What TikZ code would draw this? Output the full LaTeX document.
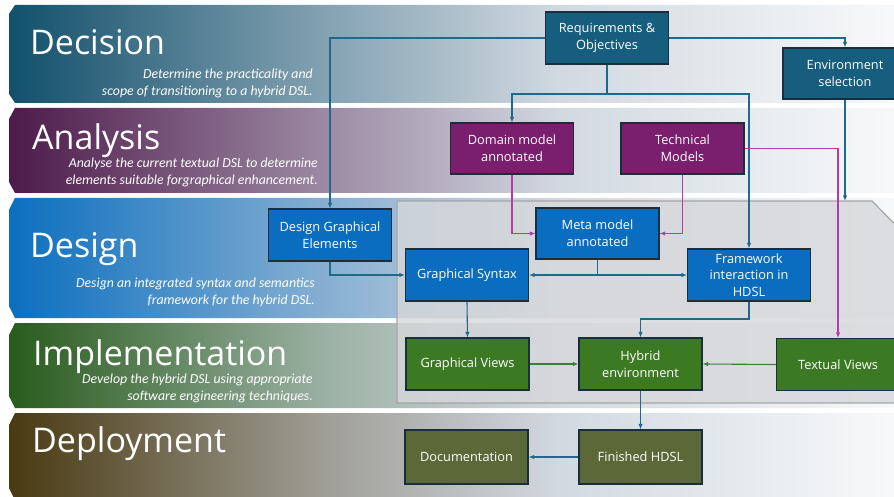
\documentclass[tikz,border=0pt]{standalone}
\usepackage{fontspec}
\setmainfont{Open Sans}
\newfontfamily\subfont{Carlito}
\usetikzlibrary{arrows.meta}

% phase colours (dark end of each band)
\definecolor{decA}{HTML}{12506B}
\definecolor{decB}{HTML}{85A3B3}
\definecolor{anaA}{HTML}{4D1A4A}
\definecolor{anaB}{HTML}{9D8BA4}
\definecolor{desA}{HTML}{0B6FBF}
\definecolor{desB}{HTML}{88B0D2}
\definecolor{impA}{HTML}{285B1C}
\definecolor{impB}{HTML}{9DB2A6}
\definecolor{depA}{HTML}{4A3A12}
\definecolor{depB}{HTML}{A09F98}
\definecolor{bandC}{HTML}{D2D9E1}
\definecolor{bandD}{HTML}{F8F9FA}

% box fills
\definecolor{boxline}{HTML}{1A2E3C}
\definecolor{decbox}{HTML}{165D7E}
\definecolor{anabox}{HTML}{791F6D}
\definecolor{desbox}{HTML}{0A6DC0}
\definecolor{impbox}{HTML}{3B7A23}
\definecolor{depbox}{HTML}{5B6838}

% connector colours
\definecolor{tealline}{HTML}{1F6A8A}
\definecolor{purpline}{HTML}{B23DAA}
\definecolor{greenline}{HTML}{3C7D3C}

\definecolor{panelfill}{HTML}{D6D7DA}
\definecolor{panelline}{HTML}{A6A6A6}

\pgfdeclarehorizontalshading{decshade}{100bp}{color(0bp)=(decA); color(25bp)=(decA); color(43bp)=(decB); color(56bp)=(bandC); color(75bp)=(bandD); color(100bp)=(bandD)}
\pgfdeclarehorizontalshading{anashade}{100bp}{color(0bp)=(anaA); color(25bp)=(anaA); color(43bp)=(anaB); color(56bp)=(bandC); color(75bp)=(bandD); color(100bp)=(bandD)}
\pgfdeclarehorizontalshading{desshade}{100bp}{color(0bp)=(desA); color(25bp)=(desA); color(43bp)=(desB); color(56bp)=(bandC); color(75bp)=(bandD); color(100bp)=(bandD)}
\pgfdeclarehorizontalshading{impshade}{100bp}{color(0bp)=(impA); color(25bp)=(impA); color(43bp)=(impB); color(56bp)=(bandC); color(75bp)=(bandD); color(100bp)=(bandD)}
\pgfdeclarehorizontalshading{depshade}{100bp}{color(0bp)=(depA); color(25bp)=(depA); color(43bp)=(depB); color(56bp)=(bandC); color(75bp)=(bandD); color(100bp)=(bandD)}

\begin{document}
\begin{tikzpicture}[x=1pt,y=-1pt,
  bx/.style={draw=boxline, line width=1.1pt, text=white, minimum width=123pt,
    minimum height=52pt, align=center, inner sep=2pt,
    font=\fontsize{12.8}{16.8}\selectfont},
  phase/.style={text=white, anchor=base west, inner sep=0pt,
    font=\fontsize{34}{38}\selectfont},
  blurb/.style={text=white, anchor=east, align=right, inner sep=0pt,
    font=\subfont\itshape\fontsize{13.8}{16.8}\selectfont},
  tip/.style={-{Latex[length=5.5pt,width=4.5pt]}},
  tl/.style={draw=tealline, line width=1.1pt, tip},
  pl/.style={draw=purpline, line width=1.1pt, tip},
  gl/.style={draw=greenline, line width=1.1pt, tip},
]
\useasboundingbox (0,0) rectangle (894,497);
\clip (0,0) rectangle (894,497);
\fill[white] (0,0) rectangle (894,497);

% phase bands
\shade[shading=decshade] (15,5) -- (900,5) -- (900,103) -- (15,103) -- (9,94) -- (9,14) -- cycle;
\shade[shading=anashade] (15,108) -- (900,108) -- (900,193) -- (15,193) -- (9,182) -- (9,119) -- cycle;
\shade[shading=desshade] (15,198) -- (900,198) -- (900,318) -- (15,318) -- (9,306) -- (9,210) -- cycle;
\shade[shading=impshade] (15,323) -- (900,323) -- (900,408) -- (15,408) -- (9,396) -- (9,335) -- cycle;
\shade[shading=depshade] (15,413) -- (900,413) -- (900,500) -- (15,500) -- (9,488) -- (9,425) -- cycle;

% phase titles and descriptions
\node[phase] (tdec) at (30,55) {Decision};
\node[phase] (tana) at (32,150) {Analysis};
\node[phase] (tdes) at (30,258) {Design};
\node[phase] (timp) at (33,365) {Implementation};
\node[phase] (tdep) at (32,452) {Deployment};

\node[blurb] (bdec) at (313,83) {Determine the practicality and\\scope of transitioning to a hybrid DSL.};
\node[blurb] (bana) at (318,172) {Analyse the current textual DSL to determine\\elements suitable forgraphical enhancement.};
\node[blurb] (bdes) at (315,292) {Design an integrated syntax and semantics\\framework for the hybrid DSL.};
\node[blurb] (bimp) at (313,388) {Develop the hybrid DSL using appropriate\\software engineering techniques.};

% translucent panel grouping design and implementation work
\filldraw[fill=panelfill, fill opacity=0.8, draw=panelline, line width=1.2pt]
  (397,201) -- (872,201) -- (930,260) -- (930,403) -- (397,403) -- cycle;
\coordinate (ptop) at (845,201);

% process boxes
\node[bx, fill=decbox] (req) at (607,38) {Requirements \&\\Objectives};
\node[bx, fill=decbox, minimum width=124pt, minimum height=51pt] (env) at (845,73.5) {Environment\\selection};
\node[bx, fill=anabox, minimum height=51pt] (dom) at (512,148.5) {Domain model\\annotated};
\node[bx, fill=anabox, minimum height=51pt] (tech) at (682.5,148.5) {Technical\\Models};
\node[bx, fill=desbox] (dge) at (330,235) {Design Graphical\\Elements};
\node[bx, fill=desbox, minimum height=51pt] (meta) at (597.5,233.5) {Meta model\\annotated};
\node[bx, fill=desbox] (gs) at (467,275) {Graphical Syntax};
\node[bx, fill=desbox] (fw) at (749,275) {Framework\\interaction in\\HDSL};
\node[bx, fill=impbox] (gv) at (467.5,364) {Graphical Views};
\node[bx, fill=impbox] (hy) at (640.5,364) {Hybrid\\environment};
\node[bx, fill=impbox] (tv) at (838,364.5) {Textual Views};
\node[bx, fill=depbox, minimum height=54pt] (doc) at (466.5,457) {Documentation};
\node[bx, fill=depbox, minimum height=54pt] (fin) at (640.5,457) {Finished HDSL};

% connectors
\coordinate (j1) at (607,94);
\coordinate (j2) at (meta.south |- gs.east);
\coordinate (j3) at (749,319);

\draw[tl] (req.west) -| (dge.north);
\draw[tl] (req.east) -| (env.north);
\draw[tl] (req.south) -- (j1) -| (dom.north);
\draw[tl] (j1) -| (fw.north);
\draw[tl] (env.south) -- (ptop);

\draw[pl] (dom.south) |- (meta.west);
\draw[pl] (tech.south) |- (meta.east);
\draw[pl] (tech.east) -| (tv.north);

\draw[tl] (dge.south) |- (gs.west);
\draw[tl] (meta.south) -- (j2) -- (gs.east);
\draw[tl] (j2) -- (fw.west);
\draw[tl] (gs.south) -- (gv.north);
\draw[tl] (fw.south) -- (j3) -| (hy.north);

\draw[gl] (gv.east) -- (hy.west);
\draw[gl] (tv.west) -- (hy.east);

\draw[tl] (hy.south) -- (fin.north);
\draw[tl] (fin.west) -- (doc.east);
\end{tikzpicture}
\end{document}
